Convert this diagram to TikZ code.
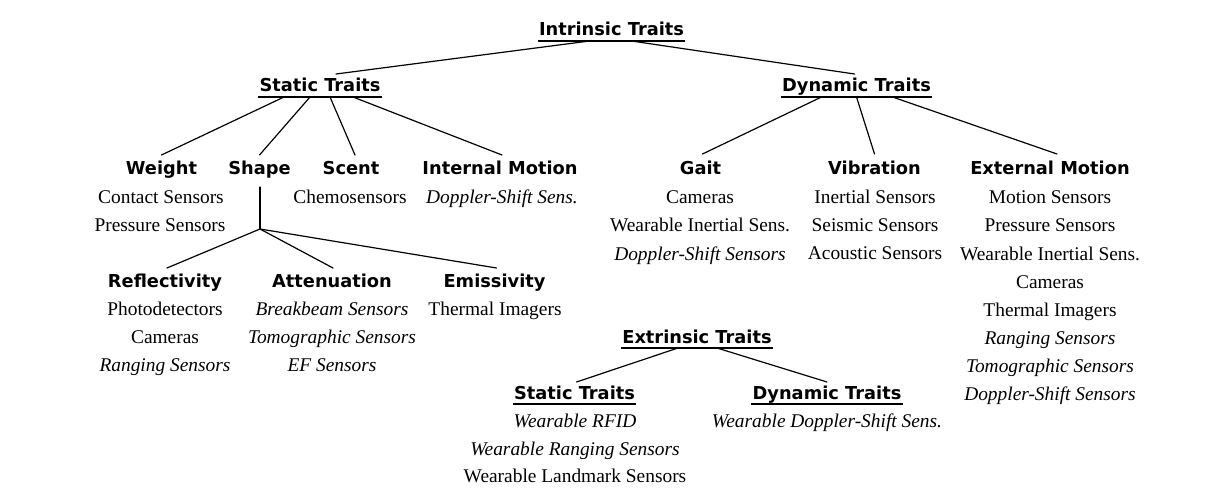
\documentclass[tikz,border=0pt]{standalone}
\usepackage{fontspec}
\setmainfont{Liberation Serif}
\newfontfamily\headfont{DejaVu Sans}
\usetikzlibrary{calc}
\tikzset{
  hd/.style={inner sep=0pt, anchor=base, font=\headfont\bfseries\fontsize{8.9}{10}\selectfont},
  bd/.style={inner sep=0pt, anchor=base, font=\fontsize{9.7}{11}\selectfont},
  bi/.style={inner sep=0pt, anchor=base, font=\fontsize{9.7}{11}\selectfont\itshape},
  edge/.style={line width=0.6pt, line cap=round},
  uline/.style={line width=0.75pt},
}
\newcommand\ulinenode[1]{\draw[uline] ($(#1.base west)+(-1,5)$) -- ($(#1.base east)+(1,5)$);}
\begin{document}
\begin{tikzpicture}[x=0.5pt,y=-0.5pt]
\useasboundingbox (0,0) rectangle (1219,502);

% headings
\node[hd] (it) at (611.5,36) {Intrinsic Traits};
\node[hd] (st) at (320,92) {Static Traits};
\node[hd] (dt) at (856.5,92) {Dynamic Traits};
\node[hd] (weight) at (161.5,175) {Weight};
\node[hd] (shape) at (259.5,175) {Shape};
\node[hd] (scent) at (351,175) {Scent};
\node[hd] (intm) at (500,175) {Internal Motion};
\node[hd] (gait) at (700.5,175) {Gait};
\node[hd] (vib) at (874.5,175) {Vibration};
\node[hd] (extm) at (1050,175) {External Motion};
\node[hd] (refl) at (165,287) {Reflectivity};
\node[hd] (att) at (332,287) {Attenuation};
\node[hd] (emis) at (494.5,287) {Emissivity};
\node[hd] (et) at (697,343) {Extrinsic Traits};
\node[hd] (est) at (574.5,399) {Static Traits};
\node[hd] (edt) at (827,399) {Dynamic Traits};

\ulinenode{it}
\ulinenode{st}
\ulinenode{dt}
\ulinenode{et}
\ulinenode{est}
\ulinenode{edt}

% body texts
\node[bd] (w1) at (161,204) {Contact Sensors};
\node[bd] (w2) at (160,232) {Pressure Sensors};
\node[bd] (s1) at (350,204) {Chemosensors};
\node[bi] (i1) at (502,204) {Doppler-Shift Sens.};
\node[bd] (g1) at (700,204) {Cameras};
\node[bd] (g2) at (700,232) {Wearable Inertial Sens.};
\node[bi] (g3) at (700,260) {Doppler-Shift Sensors};
\node[bd] (v1) at (875,204) {Inertial Sensors};
\node[bd] (v2) at (875,232) {Seismic Sensors};
\node[bd] (v3) at (875,259) {Acoustic Sensors};
\node[bd] (e1) at (1050,204) {Motion Sensors};
\node[bd] (e2) at (1050,232) {Pressure Sensors};
\node[bd] (e3) at (1050,260) {Wearable Inertial Sens.};
\node[bd] (e4) at (1050,288) {Cameras};
\node[bd] (e5) at (1050,316) {Thermal Imagers};
\node[bi] (e6) at (1050,344) {Ranging Sensors};
\node[bi] (e7) at (1050,372) {Tomographic Sensors};
\node[bi] (e8) at (1050,400) {Doppler-Shift Sensors};
\node[bd] (r1) at (165,315) {Photodetectors};
\node[bd] (r2) at (165,343) {Cameras};
\node[bi] (r3) at (165,371) {Ranging Sensors};
\node[bi] (a1) at (332,315) {Breakbeam Sensors};
\node[bi] (a2) at (332,343) {Tomographic Sensors};
\node[bi] (a3) at (332,371) {EF Sensors};
\node[bd] (m1) at (495,315) {Thermal Imagers};
\node[bi] (x1) at (575,427) {Wearable RFID};
\node[bi] (x2) at (575,455) {Wearable Ranging Sensors};
\node[bd] (x3) at (575,482) {Wearable Landmark Sensors};
\node[bi] (y1) at (827,427) {Wearable Doppler-Shift Sens.};

% connectors
\draw[edge] ($(it.base)+(-22,5)$) -- ($(st.base)+(16,-18)$);
\draw[edge] ($(it.base)+(20,5)$) -- ($(dt.base)+(-2,-18)$);
\draw[edge] ($(st.base)+(-36,5)$) -- ($(weight.base)+(0,-20)$);
\draw[edge] ($(st.base)+(-10,5)$) -- ($(shape.base)+(0,-20)$);
\draw[edge] ($(st.base)+(10,5)$) -- ($(scent.base)+(4,-20)$);
\draw[edge] ($(st.base)+(33,5)$) -- ($(intm.base)+(2,-20)$);
\draw[edge] ($(dt.base)+(-35,5)$) -- ($(gait.base)+(2,-21)$);
\draw[edge] ($(dt.base)+(0,5)$) -- ($(vib.base)+(0,-21)$);
\draw[edge] ($(dt.base)+(36,5)$) -- ($(extm.base)+(7,-21)$);
\coordinate (j) at ($(shape.base)+(0.5,54)$);
\draw[edge] ($(shape.base)+(0.5,12)$) -- (j);
\draw[edge] (j) -- ($(refl.base)+(2,-19)$);
\draw[edge] (j) -- ($(att.base)+(1,-19)$);
\draw[edge] (j) -- ($(emis.base)+(2,-19)$);
\draw[edge] ($(et.base)+(-19,5)$) -- ($(est.base)+(2,-17)$);
\draw[edge] ($(et.base)+(20,5)$) -- ($(edt.base)+(0,-17)$);
\end{tikzpicture}
\end{document}
